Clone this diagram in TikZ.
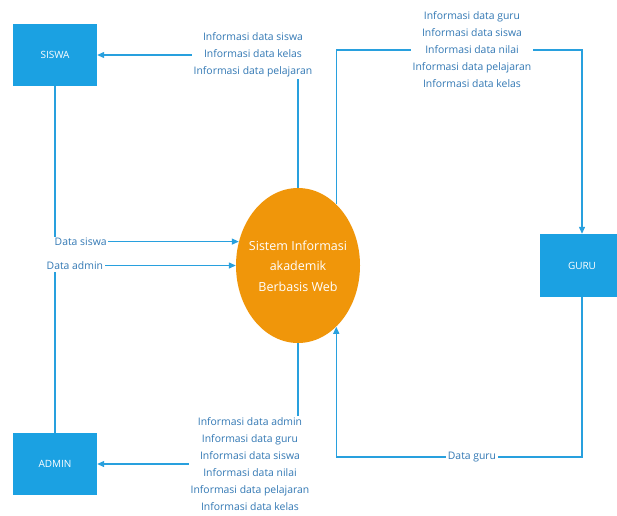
\documentclass[tikz,border=0pt]{standalone}
\usepackage{fontspec}
\setmainfont{Open Sans}
\usetikzlibrary{arrows.meta,shapes.geometric}
\definecolor{boxblue}{RGB}{27,161,226}
\definecolor{lineblue}{RGB}{40,160,222}
\definecolor{txtblue}{RGB}{50,120,180}
\definecolor{orng}{RGB}{240,150,10}
\tikzset{
  entity/.style={rectangle,fill=boxblue,draw=none,minimum width=84pt,minimum height=62pt,text=white,font=\fontsize{10}{12}\selectfont},
  proc/.style={ellipse,fill=orng,draw=none,minimum width=124pt,minimum height=155pt,inner sep=0pt},
  proctext/.style={text=white,align=center,font=\fontsize{12.5}{20.5}\selectfont,inner sep=0pt},
  flow/.style={draw=lineblue,line width=1.2pt,-{Triangle[length=7pt,width=6pt]}},
  lbl/.style={fill=white,text=txtblue,align=center,font=\fontsize{10.4}{17}\selectfont,inner sep=1.5pt}
}
\begin{document}
\begin{tikzpicture}[x=1pt,y=-1pt]
\useasboundingbox (0,0) rectangle (617,515);
\node[entity] (siswa) at (55,55) {SISWA};
\node[entity] (admin) at (55,464) {ADMIN};
\node[entity,minimum height=63pt] (guru) at (582,265.5) {GURU};
\node[proc] (sys) at (298,265.5) {};
\node[proctext] (systxt) at (298,266) {Sistem Informasi\\akademik\\Berbasis Web};
\coordinate (gt) at (582,50);
\coordinate (gb) at (582,457);
% flows
\draw[flow] (sys.north) |- (siswa.east);
\node[lbl] (l1) at (253,55) {Informasi data siswa\\Informasi data kelas\\Informasi data pelajaran};
\draw[flow] (siswa.south) |- (sys.158);
\node[lbl,anchor=west] (l2) at (53,242) {Data siswa};
\draw[flow] (admin.north) |- (sys.west);
\node[lbl,anchor=west] (l3) at (45,266) {Data admin};
\draw[flow] (sys.58) |- (gt) -- (guru.north);
\node[lbl] (l4) at (472,50) {Informasi data guru\\Informasi data siswa\\Informasi data nilai\\Informasi data pelajaran\\Informasi data kelas};
\draw[flow] (guru.south) -- (gb) -| (sys.-58);
\node[lbl] (l5) at (472,457) {Data guru};
\draw[flow] (sys.south) |- (admin.east);
\node[lbl] (l6) at (250,464) {Informasi data admin\\Informasi data guru\\Informasi data siswa\\Informasi data nilai\\Informasi data pelajaran\\Informasi data kelas};
\end{tikzpicture}
\end{document}
